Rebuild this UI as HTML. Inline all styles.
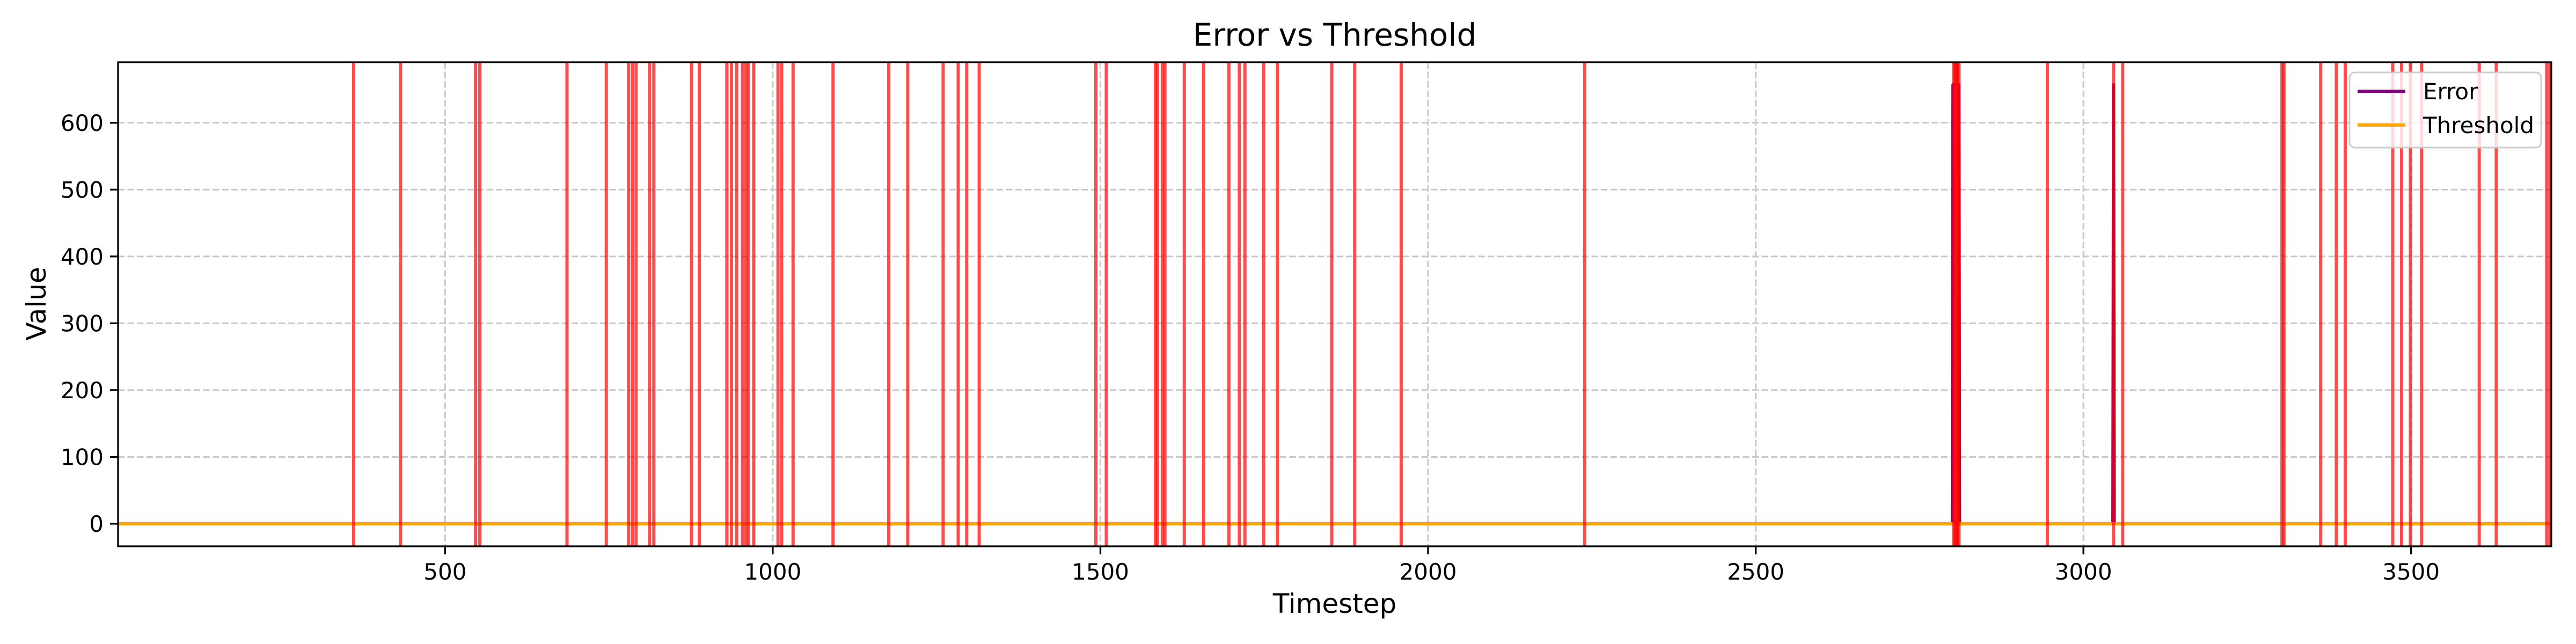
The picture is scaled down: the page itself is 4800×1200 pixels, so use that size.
<!DOCTYPE html>
<html><head><meta charset="utf-8">
<style>
html,body{margin:0;padding:0;background:#fff;}
svg{display:block;font-family:"DejaVu Sans","Liberation Sans",sans-serif;}
</style></head>
<body>
<svg id="chart" width="4800" height="1200" viewBox="0 0 4800 1200" xmlns="http://www.w3.org/2000/svg">
<rect x="0" y="0" width="4800" height="1200" fill="#fff"/>
<g id="grid"></g>
<g id="series"></g>
<g id="anoms"></g>
<g id="axes"></g>
<text x="2487" y="85" font-size="58" text-anchor="middle">Error vs Threshold</text>
<text x="2487" y="1142" font-size="50" text-anchor="middle">Timestep</text>
<text x="0" y="0" font-size="50" text-anchor="middle" transform="translate(85,566) rotate(-90)">Value</text>
<g id="legend">
  <rect x="4378" y="135" width="357" height="140" rx="10" fill="#fff" fill-opacity="0.8" stroke="#cccccc" stroke-width="3"/>
  <line x1="4393" y1="170" x2="4482" y2="170" stroke="#800080" stroke-width="6"/>
  <text x="4515" y="185" font-size="42">Error</text>
  <line x1="4393" y1="233" x2="4482" y2="233" stroke="#ffa500" stroke-width="6"/>
  <text x="4515" y="248" font-size="42">Threshold</text>
</g>
</svg>
<script>
const xTicks = [500, 1000, 1500, 2000, 2500, 3000, 3500];
const yTicks = [0, 100, 200, 300, 400, 500, 600];
const errorT = [1, 2800, 2801, 2810, 2811, 3045, 3046, 3047, 3714];
const errorV = [0, 0, 657, 657, 0, 0, 657, 0, 0];
const thresholdT = [1, 3714];
const thresholdV = [0, 0];
const anomalies = [360.5,432,546.5,553,686,746,780,786,791.5,812,818.5,876,888,930,937,945,954,959,963,971,1008,1013.5,1031,1092,
1177,1206,1260,1283,1296,1315,1493,1509,1584,1587,1594.5,1598.5,1628,1657.5,1696,1712,1720.5,1749,1770,
1853,1888,1959,2239,2802,2804,2806,2808,2810,2945,3046,3060,3303,3306,3362,3386,3399.5,3472,3485.5,3499,3516,3604,3630,3707,3712];

const L=220,R=4754,T=116,B=1018;
const xMin=1,xMax=3714,yMin=-33.8,yMax=690.6;
const NS="http://www.w3.org/2000/svg";
function sx(v){return L+(v-xMin)/(xMax-xMin)*(R-L);}
function sy(v){return B-(v-yMin)/(yMax-yMin)*(B-T);}
function mk(tag,attrs,parent){const e=document.createElementNS(NS,tag);for(const k in attrs)e.setAttribute(k,attrs[k]);parent.appendChild(e);return e;}
const grid=document.getElementById('grid'),series=document.getElementById('series'),anoms=document.getElementById('anoms'),axes=document.getElementById('axes');

xTicks.forEach(t=>{
  const x=sx(t);
  const g=mk('line',{x1:x,x2:x,y1:T,y2:B,stroke:'#c8c8c8','stroke-width':3,'stroke-dasharray':'12.3,5.3'},grid);
  
  
  const tk=mk('line',{x1:x,x2:x,y1:B,y2:B+15,stroke:'#000','stroke-width':3.3},axes);
  
  
  const tx=mk('text',{x:x,y:B+62,'font-size':42,'text-anchor':'middle'},axes);
  tx.textContent=t;
  
  
});
yTicks.forEach(t=>{
  const y=sy(t);
  const g=mk('line',{x1:L,x2:R,y1:y,y2:y,stroke:'#c8c8c8','stroke-width':3,'stroke-dasharray':'12.3,5.3'},grid);
  
  
  const tk=mk('line',{x1:L-15,x2:L,y1:y,y2:y,stroke:'#000','stroke-width':3.3},axes);
  
  
  const tx=mk('text',{x:L-27,y:y+15,'font-size':42,'text-anchor':'end'},axes);
  tx.textContent=t;
  
  
});

const ep=mk('polyline',{points:errorT.map((t,i)=>sx(t)+','+sy(errorV[i])).join(' '),fill:'none',stroke:'#800080','stroke-width':6,'stroke-linejoin':'round'},series);


const tp=mk('polyline',{points:thresholdT.map((t,i)=>sx(t)+','+sy(thresholdV[i])).join(' '),fill:'none',stroke:'#ffa500','stroke-width':6},series);



anomalies.forEach(a=>{
  const x=sx(a);
  const l=mk('line',{x1:x,x2:x,y1:T,y2:B,stroke:'#ff0000','stroke-opacity':0.7,'stroke-width':6},anoms);
  
  
});

const fr=mk('rect',{x:L,y:T,width:R-L,height:B-T,fill:'none',stroke:'#000','stroke-width':3.3},axes);


</script>
</body></html>
